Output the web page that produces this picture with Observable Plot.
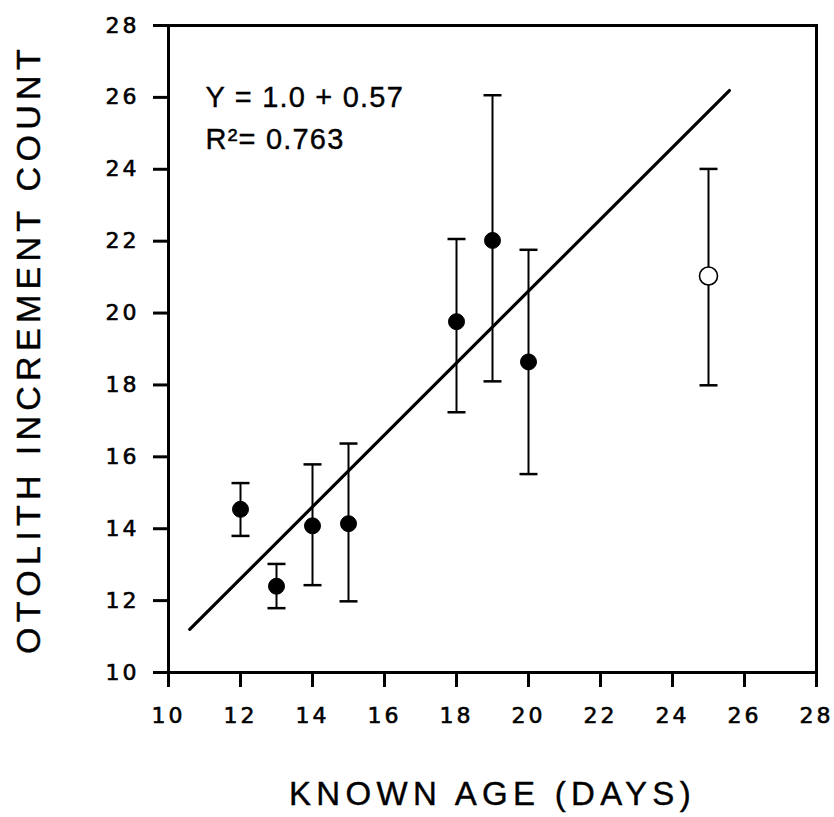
<!DOCTYPE html>
<html>
<head>
<meta charset="utf-8">
<script src="https://cdn.jsdelivr.net/npm/d3@7"></script>
<script src="https://cdn.jsdelivr.net/npm/@observablehq/plot@0.6"></script>
<style>
  html, body { margin: 0; padding: 0; background: #fff; }
</style>
</head>
<body>
<div id="chart"></div>
<script>
// Known age (days) for each group
const ageDays = [12, 13, 14, 15, 18, 19, 20, 25];
// Mean otolith increment count
const meanCount = [14.54, 12.4, 14.08, 14.14, 19.76, 22.02, 18.64, 21.03];
// Error bar lower / upper limits
const lowCount = [13.8, 11.79, 12.43, 11.98, 17.24, 18.1, 15.52, 17.99];
const highCount = [15.27, 13.02, 15.79, 16.37, 22.06, 26.06, 21.76, 24.01];
// Filled (true) or open (false) symbol
const filled = [true, true, true, true, true, true, true, false];
// Fitted regression line end points
const fitX = [10.59, 25.58];
const fitY = [11.2, 26.19];
// Axis ticks
const xTicks = [10, 12, 14, 16, 18, 20, 22, 24, 26, 28];
const yTicks = [10, 12, 14, 16, 18, 20, 22, 24, 26, 28];
const equationText = "Y = 1.0 + 0.57\nR\u00B2= 0.763";
const xTitle = "KNOWN AGE (DAYS)";
const yTitle = "OTOLITH INCREMENT COUNT";

const points = ageDays.map((x, i) => ({x, y: meanCount[i], lo: lowCount[i], hi: highCount[i], filled: filled[i]}));
const fit = fitX.map((x, i) => ({x, y: fitY[i]}));

const capSymbol = {
  draw(context, size) {
    const r = Math.sqrt(size / Math.PI);
    context.moveTo(-r, 0);
    context.lineTo(r, 0);
  }
};

const tickFont = "'DejaVu Sans', 'Liberation Sans', sans-serif";
const titleFont = "'Liberation Sans', Arial, sans-serif";

const chart = Plot.plot({
  width: 834,
  height: 817,
  marginLeft: 168,
  marginRight: 18,
  marginTop: 25,
  marginBottom: 145,
  style: {fontFamily: titleFont, fontSize: "22px", color: "#000", background: "#fff"},
  x: {domain: [10, 28]},
  y: {domain: [10, 28]},
  marks: [
    Plot.frame({stroke: "#000", strokeWidth: 3}),
    Plot.axisX({ticks: xTicks, tickSize: 15, tickPadding: 20, strokeWidth: 3, label: null, tickFormat: d => String(d)}),
    Plot.axisY({ticks: yTicks, tickSize: 15, tickPadding: 14, strokeWidth: 3, label: null, tickFormat: d => String(d)}),
    Plot.line(fit, {x: "x", y: "y", stroke: "#000", strokeWidth: 3.2}),
    Plot.ruleX(points, {x: "x", y1: "lo", y2: "hi", stroke: "#000", strokeWidth: 2}),
    Plot.dot(points, {x: "x", y: "lo", symbol: capSymbol, r: 9, stroke: "#000", strokeWidth: 2.5, fill: "none"}),
    Plot.dot(points, {x: "x", y: "hi", symbol: capSymbol, r: 9, stroke: "#000", strokeWidth: 2.5, fill: "none"}),
    Plot.dot(points.filter(d => d.filled), {x: "x", y: "y", r: 8, fill: "#000", stroke: "#000", strokeWidth: 1}),
    Plot.dot(points.filter(d => !d.filled), {x: "x", y: "y", r: 9, fill: "#fff", stroke: "#000", strokeWidth: 1.6}),
    Plot.text([equationText], {frameAnchor: "top-left", text: d => d, textAnchor: "start", lineAnchor: "top", lineHeight: 1.46, dx: 37, dy: 51, fontSize: 29, fill: "#000"}),
    Plot.text([xTitle], {frameAnchor: "bottom", text: d => d, textAnchor: "middle", lineAnchor: "middle", dy: 122, fontSize: 33, fill: "#000"}),
    Plot.text([yTitle], {frameAnchor: "left", text: d => d, textAnchor: "middle", lineAnchor: "middle", rotate: -90, dx: -139, fontSize: 34, fill: "#000"})
  ]
});

// font, weight and letter spacing to match the widely spaced lettering of the original
d3.select(chart).selectAll("text").each(function () {
  const t = this.textContent;
  const sel = d3.select(this);
  if (/^\d+$/.test(t)) {
    sel.style("font-family", tickFont).style("font-size", "22px").style("letter-spacing", "3px")
       .style("stroke", "#000").style("stroke-width", "0.6px");
  } else if (t === xTitle || t === yTitle) {
    sel.style("letter-spacing", "5.3px").style("stroke", "#000").style("stroke-width", "0.4px");
  } else if (t.startsWith("Y =")) {
    sel.style("letter-spacing", "1.2px").style("stroke", "#000").style("stroke-width", "0.4px");
  }
});

document.getElementById("chart").appendChild(chart);
</script>
</body>
</html>
